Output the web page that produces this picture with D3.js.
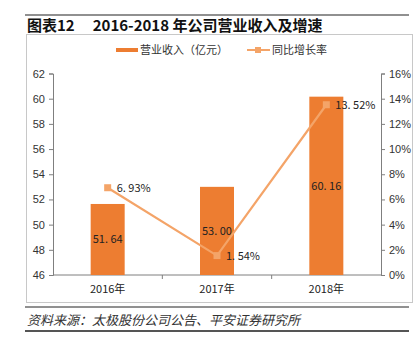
<!DOCTYPE html>
<html>
<head>
<meta charset="utf-8">
<script src="https://cdn.jsdelivr.net/npm/d3@7"></script>
<style>
  body { margin: 0; background: #fff; }
  svg { display: block; }
</style>
</head>
<body>
<div id="chart"></div>
<script>
// data
const years = ["2016年", "2017年", "2018年"];
const revenue = [51.64, 53.00, 60.16];
const growth = [6.93, 1.54, 13.52];
const leftTicks = [46, 48, 50, 52, 54, 56, 58, 60, 62];
const rightTicks = [0, 2, 4, 6, 8, 10, 12, 14, 16];

const width = 415;
const height = 351;
const cjk = "'Noto Sans CJK SC', 'Noto Sans', sans-serif";
const latin = "'Liberation Sans', Arial, sans-serif";
const barColor = "#ED7D31";
const lineColor = "#F4A468";

const svg = d3.select("#chart")
              .append("svg")
              .attr("width", width)
              .attr("height", height);

// header rule and title
svg.append("line")
   .attr("x1", 25).attr("x2", 409).attr("y1", 15).attr("y2", 15)
   .attr("stroke", "#222").attr("stroke-width", 1.2);

const title = svg.append("text")
                 .attr("x", 27).attr("y", 31)
                 .style("font-family", cjk)
                 .style("font-size", "15px")
                 .style("font-weight", "bold")
                 .attr("fill", "#111");
title.append("tspan").text("图表12");
title.append("tspan").attr("dx", 18).text("2016-2018 年公司营业收入及增速");

// chart frame
svg.append("rect")
   .attr("x", 26.5).attr("y", 34.5).attr("width", 386).attr("height", 268)
   .attr("fill", "none").attr("stroke", "#c8c8c8");

// scales
const x = d3.scaleBand()
            .domain(years)
            .range([53, 381]);

const yLeft = d3.scaleLinear()
                .domain([46, 62])
                .range([275, 73.5]);

const yRight = d3.scaleLinear()
                 .domain([0, 16])
                 .range([275, 73.5]);

const barWidth = 34;

// axes
const axisColor = "#7f7f7f";

const gLeft = svg.append("g")
                 .attr("transform", "translate(53,0)")
                 .call(d3.axisLeft(yLeft).tickValues(leftTicks).tickSize(4).tickPadding(4));

const gRight = svg.append("g")
                  .attr("transform", "translate(381,0)")
                  .call(d3.axisRight(yRight).tickValues(rightTicks).tickSize(4).tickPadding(4)
                          .tickFormat(d => d + "%"));

// x axis: ticks sit between categories
const gBottom = svg.append("g")
                   .attr("transform", "translate(0,275)");
gBottom.append("line")
       .attr("x1", 53).attr("x2", 381)
       .attr("stroke", axisColor);
gBottom.selectAll(".sep")
       .data(years.slice(1))
       .enter()
       .append("line")
       .attr("class", "sep")
       .attr("x1", d => x(d)).attr("x2", d => x(d))
       .attr("y1", 0).attr("y2", 4)
       .attr("stroke", axisColor);
gBottom.selectAll(".lbl")
       .data(years)
       .enter()
       .append("text")
       .attr("class", "lbl")
       .attr("x", d => x(d) + x.bandwidth() / 2)
       .attr("y", 18)
       .attr("text-anchor", "middle")
       .style("font-family", cjk)
       .style("font-size", "11px")
       .attr("fill", "#222")
       .text(d => d);

[gLeft, gRight].forEach(g => {
    g.select(".domain").attr("stroke", axisColor);
    g.selectAll(".tick line").attr("stroke", axisColor);
    g.selectAll(".tick text")
     .style("font-family", latin)
     .style("font-size", "11px")
     .attr("fill", "#333");
});

// bars
svg.selectAll(".bar")
   .data(revenue)
   .enter()
   .append("rect")
   .attr("class", "bar")
   .attr("x", (d, i) => x(years[i]) + x.bandwidth() / 2 - barWidth / 2)
   .attr("y", d => yLeft(d))
   .attr("width", barWidth)
   .attr("height", d => yLeft(46) - yLeft(d))
   .attr("fill", barColor);

svg.selectAll(".barlabel")
   .data(revenue)
   .enter()
   .append("text")
   .attr("class", "barlabel")
   .attr("x", (d, i) => x(years[i]) + x.bandwidth() / 2)
   .attr("y", d => (yLeft(d) + yLeft(46)) / 2 + 4)
   .attr("text-anchor", "middle")
   .style("font-family", cjk)
   .style("font-size", "11px")
   .attr("fill", "#222")
   .text(d => d.toFixed(2).replace(".", ". "));

// growth line
const line = d3.line()
               .x((d, i) => x(years[i]) + x.bandwidth() / 2)
               .y(d => yRight(d));

svg.append("path")
   .datum(growth)
   .attr("d", line)
   .attr("fill", "none")
   .attr("stroke", lineColor)
   .attr("stroke-width", 2.2);

svg.selectAll(".marker")
   .data(growth)
   .enter()
   .append("rect")
   .attr("class", "marker")
   .attr("x", (d, i) => x(years[i]) + x.bandwidth() / 2 - 3.5)
   .attr("y", d => yRight(d) - 3.5)
   .attr("width", 7)
   .attr("height", 7)
   .attr("fill", lineColor);

svg.selectAll(".linelabel")
   .data(growth)
   .enter()
   .append("text")
   .attr("class", "linelabel")
   .attr("x", (d, i) => x(years[i]) + x.bandwidth() / 2 + 9)
   .attr("y", d => yRight(d) + 4)
   .style("font-family", cjk)
   .style("font-size", "11px")
   .attr("fill", "#222")
   .text(d => d.toFixed(2).replace(".", ". ") + "%");

// legend
const legend = svg.append("g").attr("transform", "translate(0,50)");
legend.append("rect")
      .attr("x", 116).attr("y", -2).attr("width", 22).attr("height", 4)
      .attr("fill", barColor);
legend.append("text")
      .attr("x", 140).attr("y", 4)
      .style("font-family", cjk).style("font-size", "11px").attr("fill", "#333")
      .text("营业收入（亿元）");
legend.append("line")
      .attr("x1", 247).attr("x2", 270).attr("y1", 0).attr("y2", 0)
      .attr("stroke", lineColor).attr("stroke-width", 2);
legend.append("rect")
      .attr("x", 255).attr("y", -3).attr("width", 6).attr("height", 6)
      .attr("fill", lineColor);
legend.append("text")
      .attr("x", 272).attr("y", 4)
      .style("font-family", cjk).style("font-size", "11px").attr("fill", "#333")
      .text("同比增长率");

// footer
svg.append("line")
   .attr("x1", 25).attr("x2", 409).attr("y1", 307).attr("y2", 307)
   .attr("stroke", "#222").attr("stroke-width", 1);
svg.append("text")
   .attr("x", 27).attr("y", 325)
   .style("font-family", cjk)
   .style("font-size", "13px")
   .style("font-style", "italic")
   .attr("fill", "#333")
   .text("资料来源：太极股份公司公告、平安证券研究所");
svg.append("line")
   .attr("x1", 25).attr("x2", 409).attr("y1", 331).attr("y2", 331)
   .attr("stroke", "#555").attr("stroke-width", 2);
</script>
</body>
</html>
